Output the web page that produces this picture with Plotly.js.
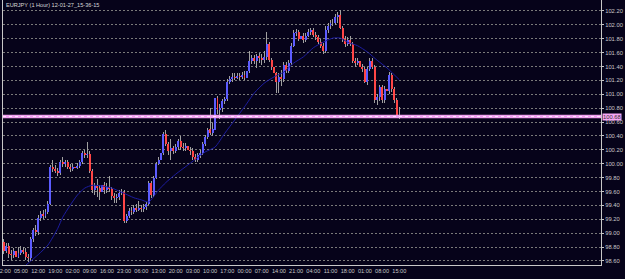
<!DOCTYPE html>
<html>
<head>
<meta charset="utf-8">
<script src="https://cdn.plot.ly/plotly-3.0.1.min.js"></script>
<style>html,body{margin:0;padding:0;background:#06031a;}#chart{width:625px;height:279px;}</style>
</head>
<body>
<div id="chart"></div>
<script>
// Bar index (one bar per hour), OHLC values
const openP = [
98.88,98.75,98.82,98.70,98.68,98.74,98.66,98.72,98.76,98.73,98.66,98.64,98.92,99.05,99.02,99.22,99.28,99.25,99.30,99.42,
99.95,99.93,99.90,99.86,100.03,100.00,100.02,99.95,99.93,99.96,99.94,99.97,100.02,100.15,100.12,100.14,99.90,99.62,99.68,99.65,
99.60,99.70,99.62,99.67,99.63,99.53,99.50,99.52,99.58,99.60,99.18,99.25,99.32,99.30,99.36,99.34,99.37,99.35,99.38,99.42,
99.72,99.55,99.80,100.00,100.06,100.15,100.43,100.28,100.18,100.22,100.19,100.24,100.33,100.24,100.22,100.26,100.20,100.18,100.10,100.06,
100.12,100.16,100.29,100.38,100.50,100.45,100.48,100.95,100.78,100.80,100.90,100.93,101.18,101.22,101.25,101.24,101.27,101.25,101.28,101.24,
101.33,101.48,101.53,101.48,101.55,101.52,101.50,101.54,101.72,101.50,101.40,101.30,101.18,101.25,101.22,101.42,101.34,101.45,101.70,101.88,
101.90,101.80,101.84,101.78,101.84,101.90,101.92,101.86,101.82,101.76,101.70,101.62,101.93,101.98,102.03,102.02,102.12,102.14,101.96,101.80,
101.72,101.78,101.72,101.48,101.45,101.48,101.40,101.36,101.18,101.36,101.48,101.40,100.92,100.96,101.10,100.92,101.08,101.05,101.28,101.08,
100.92,100.70];
const highP = [
98.92,98.86,98.86,98.76,98.78,98.78,98.80,98.82,98.80,98.78,98.70,98.94,99.08,99.12,99.26,99.32,99.33,99.35,99.46,99.98,
100.05,99.98,99.94,100.06,100.10,100.06,100.05,100.00,100.00,100.00,100.01,100.05,100.18,100.20,100.32,100.18,99.92,99.72,99.78,99.70,
99.74,99.74,99.72,99.82,99.66,99.58,99.56,99.62,99.64,99.62,99.28,99.36,99.38,99.40,99.42,99.46,99.40,99.42,99.45,99.75,
99.75,99.83,100.03,100.10,100.18,100.46,100.48,100.32,100.35,100.26,100.28,100.36,100.40,100.30,100.30,100.28,100.24,100.22,100.14,100.16,
100.20,100.32,100.42,100.52,100.80,100.58,100.98,100.98,100.86,100.93,100.96,101.22,101.26,101.30,101.30,101.31,101.30,101.32,101.33,101.36,
101.62,101.56,101.56,101.58,101.60,101.58,101.62,101.90,101.76,101.52,101.44,101.32,101.30,101.35,101.46,101.46,101.50,101.74,101.92,101.94,
101.93,101.88,101.88,101.88,101.94,101.96,101.95,101.90,101.86,101.80,101.74,101.98,102.02,102.07,102.08,102.16,102.18,102.22,101.98,101.84,
101.82,101.84,101.76,101.52,101.52,101.54,101.44,101.40,101.40,101.52,101.52,101.42,101.00,101.14,101.14,101.12,101.12,101.32,101.30,101.10,
100.94,100.82];
const lowP = [
98.70,98.72,98.64,98.62,98.64,98.62,98.64,98.68,98.70,98.62,98.58,98.60,98.88,98.96,98.98,99.18,99.20,99.22,99.28,99.40,
99.88,99.86,99.82,99.84,99.96,99.95,99.92,99.88,99.90,99.90,99.92,99.94,100.00,100.08,100.08,99.86,99.58,99.55,99.52,99.48,
99.50,99.56,99.58,99.60,99.48,99.44,99.44,99.48,99.55,99.15,99.14,99.22,99.26,99.27,99.30,99.32,99.30,99.30,99.34,99.40,
99.50,99.52,99.78,99.98,100.03,100.12,100.25,100.12,100.05,100.14,100.15,100.20,100.20,100.18,100.18,100.16,100.13,100.06,100.02,100.03,
100.08,100.13,100.26,100.35,100.42,100.40,100.44,100.72,100.65,100.75,100.86,100.90,101.15,101.18,101.20,101.22,101.21,101.22,101.20,101.16,
101.30,101.44,101.44,101.38,101.45,101.42,101.45,101.50,101.47,101.35,101.25,101.02,101.02,101.12,101.18,101.30,101.30,101.42,101.68,101.84,
101.77,101.76,101.74,101.75,101.82,101.86,101.83,101.78,101.72,101.66,101.58,101.60,101.88,101.94,101.98,102.00,102.02,101.94,101.76,101.68,
101.70,101.70,101.45,101.40,101.42,101.36,101.32,101.16,101.14,101.33,101.36,100.88,100.84,100.90,100.88,100.88,100.70,101.00,101.04,100.88,
100.66,100.64];
const closeP = [
98.75,98.82,98.70,98.68,98.74,98.66,98.72,98.76,98.73,98.66,98.64,98.92,99.05,99.02,99.22,99.28,99.25,99.30,99.42,99.95,
99.93,99.90,99.86,100.03,100.00,100.02,99.95,99.93,99.96,99.94,99.97,100.02,100.15,100.12,100.14,99.90,99.62,99.68,99.65,99.60,
99.70,99.62,99.67,99.63,99.53,99.50,99.52,99.58,99.60,99.18,99.25,99.32,99.30,99.36,99.34,99.37,99.35,99.38,99.42,99.72,
99.55,99.80,100.00,100.06,100.15,100.43,100.28,100.18,100.22,100.19,100.24,100.33,100.24,100.22,100.26,100.20,100.18,100.10,100.06,100.12,
100.16,100.29,100.38,100.48,100.45,100.50,100.95,100.78,100.80,100.90,100.93,101.18,101.22,101.25,101.24,101.27,101.25,101.28,101.24,101.33,
101.48,101.53,101.48,101.55,101.52,101.50,101.54,101.72,101.50,101.40,101.30,101.18,101.25,101.22,101.42,101.34,101.45,101.70,101.88,101.90,
101.80,101.84,101.78,101.84,101.90,101.92,101.86,101.82,101.76,101.70,101.62,101.93,101.98,102.03,102.02,102.12,102.14,101.96,101.80,101.72,
101.78,101.72,101.48,101.45,101.48,101.40,101.36,101.18,101.36,101.48,101.40,100.92,100.96,101.10,100.92,101.08,101.05,101.28,101.08,100.92,
100.70,100.68];

// Moving-average line, points (bar index, price)
const maBar = [9,14,18,22,24,27,30,33,36,40,44,48,53,56,59,63,66,70,76,82,86,90,94,98,102,106,110,114,118,122,126,130,134,137,140,144,148,152,156,161];
const maVal = [98.54,98.69,98.83,99.07,99.23,99.40,99.55,99.65,99.69,99.68,99.65,99.59,99.51,99.48,99.45,99.62,99.73,99.85,100.01,100.17,100.24,100.44,100.63,100.82,101.02,101.16,101.25,101.32,101.45,101.54,101.67,101.75,101.81,101.81,101.75,101.70,101.61,101.49,101.38,101.21];

// Axis labels
const timeTickBars = [0,7,14,21,28,35,42,49,56,63,70,77,84,91,98,105,112,119,126,133,140,147,154,161];
const timeTickText = ["22:00","05:00","12:00","19:00","02:00","09:00","16:00","23:00","06:00","13:00","20:00","03:00","10:00","17:00","00:00","07:00","14:00","21:00","04:00","11:00","18:00","01:00","08:00","15:00"];
const priceTicks = [98.60,98.80,99.00,99.20,99.40,99.60,99.80,100.00,100.20,100.40,100.60,100.80,101.00,101.20,101.40,101.60,101.80,102.00,102.20];
const bidPrice = 100.68;
const titleText = "EURJPY (1 Hour) 12-01-27_15-36-15";

const bars = closeP.map((_, i) => i);
const UP = '#5c5cff', DOWN = '#ff4646';
const wickLen = highP.map((h, i) => h - lowP[i]);
const bodyBase = openP.map((o, i) => Math.min(o, closeP[i]));
const bodyLen = openP.map((o, i) => Math.max(Math.abs(closeP[i] - o), 0.012));
const bodyColor = openP.map((o, i) => closeP[i] >= o ? UP : DOWN);

const wicks = {
  type: 'bar', x: bars, y: wickLen, base: lowP, width: 0.38,
  marker: {color: '#a0a0a0', line: {width: 0}},
  hoverinfo: 'skip', showlegend: false
};
const bodies = {
  type: 'bar', x: bars, y: bodyLen, base: bodyBase, width: 0.8,
  marker: {color: bodyColor, line: {width: 0}},
  hoverinfo: 'skip', showlegend: false
};
const ma = {
  type: 'scatter', mode: 'lines', x: maBar, y: maVal,
  line: {color: '#1c1ca0', width: 1, shape: 'spline', smoothing: 0.6},
  hoverinfo: 'skip', showlegend: false
};

const FONT = 'Liberation Sans, Arial, sans-serif';
const layout = {
  width: 625, height: 279,
  margin: {l: 3, r: 24, t: 0, b: 14, pad: 0},
  paper_bgcolor: '#06031a', plot_bgcolor: '#06031a',
  showlegend: false, barmode: 'overlay', bargap: 0,
  font: {family: FONT, size: 6, color: '#c8c8c8'},
  xaxis: {
    range: [-0.3, 243.1],
    tickmode: 'array', tickvals: timeTickBars, ticktext: timeTickText,
    tickangle: 0, ticks: '', showgrid: false, zeroline: false,
    ticklabeloverflow: 'allow',
    showline: true, linecolor: '#c8c8c8', linewidth: 1, mirror: false,
    tickfont: {family: FONT, size: 5.6, color: '#c8c8c8'}, fixedrange: true
  },
  yaxis: {
    side: 'right', range: [98.542, 102.358],
    tickmode: 'array', tickvals: priceTicks, ticktext: priceTicks.map(v => v.toFixed(2)),
    ticks: 'outside', ticklen: 2, tickcolor: '#c8c8c8',
    ticklabeloverflow: 'allow',
    showgrid: true, gridcolor: '#7a7a7a', gridwidth: 1, griddash: '2px,2px',
    zeroline: false, showline: true, linecolor: '#c8c8c8', linewidth: 1, mirror: true,
    tickfont: {family: FONT, size: 5.8, color: '#c8c8c8'}, fixedrange: true
  },
  shapes: [
    {type: 'line', xref: 'paper', x0: 0, x1: 1, yref: 'y', y0: bidPrice, y1: bidPrice,
     line: {color: '#f0a0f0', width: 3.5}},
    {type: 'line', xref: 'paper', x0: 0, x1: 1, yref: 'y', y0: bidPrice, y1: bidPrice,
     line: {color: '#ffe4ff', width: 1, dash: 'dot'}}
  ],
  annotations: [
    {xref: 'paper', yref: 'paper', x: 0, y: 1, xanchor: 'left', yanchor: 'top',
     xshift: 1, yshift: 0, text: titleText, showarrow: false,
     font: {family: FONT, size: 5.6, color: '#d8d8d8'}},
    {xref: 'paper', yref: 'y', x: 1, y: bidPrice, xanchor: 'left', yanchor: 'middle',
     xshift: 1, text: bidPrice.toFixed(2), showarrow: false, bgcolor: '#f6a6f6', borderpad: 0,
     font: {family: FONT, size: 5.8, color: '#303030'}}
  ]
};

Plotly.newPlot('chart', [wicks, bodies, ma], layout, {staticPlot: true, displayModeBar: false});
</script>
</body>
</html>
